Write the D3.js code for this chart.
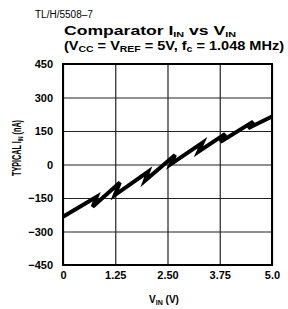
<!DOCTYPE html>
<html><head>
  <script src="https://d3js.org/d3.v7.min.js"></script>
  <style>
    body { margin: 0; background: #fff; }
    text { font-family: 'Liberation Sans', Arial, sans-serif; fill: #000; }
  </style>
</head>
<body>
  <script>
    // data (V in volts, I in nA)
    const vin = [0, 0.806, 0.71, 1.36, 1.24, 2.04, 1.96, 2.68, 2.58, 3.34, 3.24, 3.88, 3.77, 4.55, 4.43, 5.0]
    const iin = [-234, -144, -189, -81, -137, -32, -73, 43, 2, 98, 57, 137, 102, 192, 162, 215]
    const xTicks = [0, 1.25, 2.5, 3.75, 5]
    const xTickLabels = ["0", "1.25", "2.50", "3.75", "5.0"]
    const yTicks = [-450, -300, -150, 0, 150, 300, 450]

    const width = 288, height = 309
    const margin = {left: 63, right: 16, top: 64, bottom: 44}

    const svg = d3.select("body").append("svg")
                  .attr("width", width)
                  .attr("height", height)

    const x = d3.scaleLinear().domain([0, 5]).range([margin.left, width - margin.right])
    const y = d3.scaleLinear().domain([-450, 450]).range([height - margin.bottom, margin.top])

    // grid
    const gx = svg.append("g")
                  .attr("transform", `translate(0,${height - margin.bottom})`)
                  .call(d3.axisBottom(x).tickValues(xTicks)
                          .tickSize(-(height - margin.top - margin.bottom))
                          .tickFormat((d, i) => xTickLabels[i]))
    gx.select(".domain").remove()
    gx.selectAll("line").attr("stroke", "#222").attr("stroke-width", 1.2)
    gx.selectAll("text")
      .attr("dy", null).attr("y", 14)
      .style("font-size", "11px").style("font-weight", "bold")

    const gy = svg.append("g")
                  .attr("transform", `translate(${margin.left},0)`)
                  .call(d3.axisLeft(y).tickValues(yTicks)
                          .tickSize(-(width - margin.left - margin.right))
                          .tickFormat(d => d < 0 ? "\u2212" + Math.abs(d) : d))
    gy.select(".domain").remove()
    gy.selectAll("line").attr("stroke", "#222").attr("stroke-width", 1.2)
    gy.selectAll("text")
      .attr("x", -10)
      .style("font-size", "11px").style("font-weight", "bold")

    // frame
    svg.append("rect")
       .attr("x", margin.left).attr("y", margin.top)
       .attr("width", width - margin.left - margin.right)
       .attr("height", height - margin.top - margin.bottom)
       .attr("fill", "none").attr("stroke", "#000").attr("stroke-width", 2)

    // curve
    const pts = vin.map((v, i) => [v, iin[i]])
    svg.append("path")
       .datum(pts)
       .attr("d", d3.line().x(d => x(d[0])).y(d => y(d[1])))
       .attr("fill", "none")
       .attr("stroke", "#000")
       .attr("stroke-width", 4)
       .attr("stroke-linejoin", "miter")

    // texts
    svg.append("text").attr("x", 35).attr("y", 18)
       .style("font-size", "10px").text("TL/H/5508\u20137")

    const t1 = svg.append("text").attr("x", 64).attr("y", 35)
                  .attr("textLength", 172).attr("lengthAdjust", "spacingAndGlyphs")
                  .style("font-size", "13px").style("font-weight", "bold")
    t1.append("tspan").text("Comparator I")
    t1.append("tspan").attr("dy", 1.5).style("font-size", "8px").text("IN")
    t1.append("tspan").attr("dy", -1.5).text(" vs V")
    t1.append("tspan").attr("dy", 1.5).style("font-size", "8px").text("IN")

    const t2 = svg.append("text").attr("x", 64).attr("y", 50)
                  .attr("textLength", 220).attr("lengthAdjust", "spacingAndGlyphs")
                  .style("font-size", "12.5px").style("font-weight", "bold")
    t2.append("tspan").text("(V")
    t2.append("tspan").attr("dy", 2).style("font-size", "9px").text("CC")
    t2.append("tspan").attr("dy", -2).text(" = V")
    t2.append("tspan").attr("dy", 2).style("font-size", "9px").text("REF")
    t2.append("tspan").attr("dy", -2).text(" = 5V, f")
    t2.append("tspan").attr("dy", 2).style("font-size", "9px").text("c")
    t2.append("tspan").attr("dy", -2).text(" = 1.048 MHz)")

    const xt = svg.append("text").attr("x", 164).attr("y", 303)
                  .attr("text-anchor", "middle")
                  .style("font-size", "10px").style("font-weight", "bold")
    xt.append("tspan").text("V")
    xt.append("tspan").attr("dy", 2).style("font-size", "7px").text("IN")
    xt.append("tspan").attr("dy", -2).text(" (V)")

    const yt = svg.append("text")
                  .attr("transform", "translate(21,148) rotate(-90)")
                  .attr("text-anchor", "middle")
                  .attr("textLength", 56).attr("lengthAdjust", "spacingAndGlyphs")
                  .style("font-size", "12px").style("font-weight", "bold")
    yt.append("tspan").text("TYPICAL I")
    yt.append("tspan").attr("dy", 2).style("font-size", "8px").text("IN")
    yt.append("tspan").attr("dy", -2).text(" (nA)")
  </script>
</body></html>
